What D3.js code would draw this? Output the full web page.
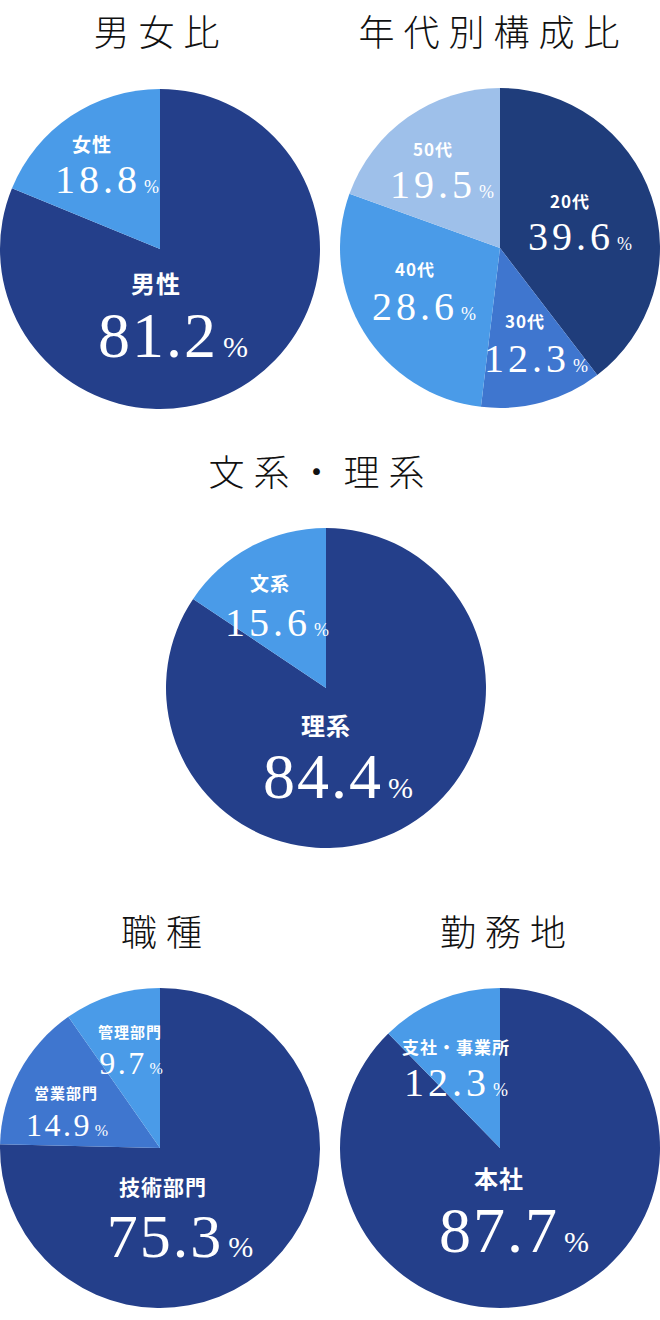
<!DOCTYPE html>
<html>
<head>
<meta charset="utf-8">
<script src="https://cdn.jsdelivr.net/npm/d3@7"></script>
<style>
body { margin: 0; background: #fff; }
svg { display: block; }
</style>
</head>
<body>
<div id="chart-wrap"></div>
<script>
//Data
const titles = ["男女比", "年代別構成比", "文系・理系", "職種", "勤務地"];

const genderCats = ["男性", "女性"];
const genderVals = [81.2, 18.8];

const ageCats = ["20代", "30代", "40代", "50代"];
const ageVals = [39.6, 12.3, 28.6, 19.5];

const majorCats = ["理系", "文系"];
const majorVals = [84.4, 15.6];

const jobCats = ["技術部門", "営業部門", "管理部門"];
const jobVals = [75.3, 14.9, 9.7];

const placeCats = ["本社", "支社・事業所"];
const placeVals = [87.7, 12.3];

//Colors
const navy = "#243f8a";
const deep = "#1f3d7b";
const mid = "#3f76cf";
const light = "#4a9be8";
const pale = "#9ec0ea";

//Text styles: [name size, number size, number spacing, percent size]
const big = [24, 64, 2, 30];
const med = [19, 40, 4, 18];
const sm = [17, 40, 4, 18];
const tiny = [15, 32, 2.5, 16];

//Layout: chart centers, title x, label spots relative to center
//label: [name dx, name dy, number dx, number dy, style]
const charts = [
	{cats: genderCats, vals: genderVals, colors: [navy, light],
	 cx: 160, cy: 249, tx: 161,
	 labels: [[-4, 44, 13, 108, big], [-68, -97, -53, -56, med]]},
	{cats: ageCats, vals: ageVals, colors: [deep, mid, light, pale],
	 cx: 500, cy: 248, tx: 493.5,
	 labels: [[70, -40, 80, 2, sm], [25, 80, 36, 124, sm], [-85, 28, -76, 72, sm], [-67, -92, -58, -50, sm]]},
	{cats: majorCats, vals: majorVals, colors: [navy, light],
	 cx: 326, cy: 688, tx: 321,
	 labels: [[0, 47, 12, 110, big], [-56, -97, -49, -52, med]]},
	{cats: jobCats, vals: jobVals, colors: [navy, mid, light],
	 cx: 160, cy: 1148, tx: 166,
	 labels: [[3, 47, 20, 109, [21, 62, 2, 30]], [-94, -49, -93, -12, tiny], [-30, -110, -29, -74, tiny]]},
	{cats: placeCats, vals: placeVals, colors: [navy, light],
	 cx: 500, cy: 1148, tx: 507.5,
	 labels: [[-1, 40, 14, 104, big], [-44, -94, -44, -52, sm]]}
];

const radius = 160;
const titleY = [46, 46, 486, 946, 946];

const sansFont = "'Noto Sans CJK JP', 'Noto Sans', sans-serif";
const serifFont = "'Liberation Serif', 'DejaVu Serif', serif";

let svg = d3.select("#chart-wrap")
	.append("svg")
	.attr("width", 660)
	.attr("height", 1320);

let pie = d3.pie().sort(null).value(function(d) { return d; });
let arc = d3.arc().innerRadius(0).outerRadius(radius);

charts.forEach(function(c, i) {
	//title
	svg.append("text")
		.attr("x", c.tx)
		.attr("y", titleY[i])
		.attr("text-anchor", "middle")
		.style("font-family", sansFont)
		.style("font-weight", 300)
		.style("font-size", "36px")
		.style("letter-spacing", "9px")
		.style("fill", "#111")
		.text(titles[i]);

	let g = svg.append("g")
		.attr("transform", "translate(" + c.cx + "," + c.cy + ")");

	g.selectAll("path")
		.data(pie(c.vals))
		.enter()
		.append("path")
		.attr("d", arc)
		.style("fill", function(d, j) { return c.colors[j]; });

	//labels
	c.cats.forEach(function(cat, j) {
		let lb = c.labels[j];
		let st = lb[4];
		g.append("text")
			.attr("x", lb[0])
			.attr("y", lb[1])
			.attr("text-anchor", "middle")
			.style("font-family", sansFont)
			.style("font-weight", 700)
			.style("font-size", st[0] + "px")
			.style("letter-spacing", "1px")
			.style("fill", "#fff")
			.text(cat);

		let num = g.append("text")
			.attr("x", lb[2])
			.attr("y", lb[3])
			.attr("text-anchor", "middle")
			.style("font-family", serifFont)
			.style("fill", "#fff");
		num.append("tspan")
			.style("font-size", st[1] + "px")
			.style("letter-spacing", st[2] + "px")
			.text(c.vals[j].toFixed(1));
		num.append("tspan")
			.attr("dx", st[1] * 0.08)
			.style("font-size", st[3] + "px")
			.text("%");
	});
});
</script>
</body>
</html>
